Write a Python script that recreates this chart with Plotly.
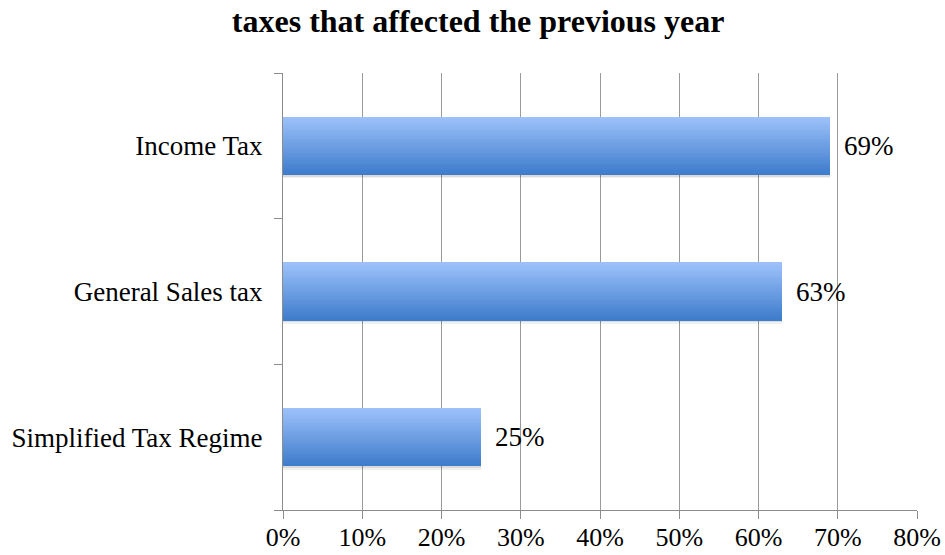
import plotly.graph_objects as go

# Survey results: share of respondents affected by each tax
categories = ["Simplified Tax Regime", "General Sales tax", "Income Tax"]
shares = [0.25, 0.63, 0.69]
x_ticks = [0.0, 0.1, 0.2, 0.3, 0.4, 0.5, 0.6, 0.7, 0.8]

FONT = "Liberation Serif, Times New Roman, serif"
BAR_W = 0.4
N_SLICES = 24
TOP = (156, 193, 250)     # light blue at the top edge of a bar
BOTTOM = (62, 124, 204)   # deeper blue at the bottom edge

fig = go.Figure()

# soft drop shadow under each bar (two faint layers)
for off, alpha in [(0.022, 0.06), (0.012, 0.09)]:
    fig.add_trace(go.Bar(
        y=categories, x=shares, orientation="h",
        width=BAR_W, offset=-BAR_W / 2 - off,
        marker=dict(color=f"rgba(0,0,0,{alpha})", line=dict(width=0)),
        hoverinfo="skip", showlegend=False,
    ))

# vertical gradient built from thin stacked slices of the same bars
for k in range(N_SLICES):
    t = k / (N_SLICES - 1)
    c = tuple(round(BOTTOM[i] + (TOP[i] - BOTTOM[i]) * t) for i in range(3))
    fig.add_trace(go.Bar(
        y=categories, x=shares, orientation="h",
        width=BAR_W / N_SLICES * 1.05,
        offset=-BAR_W / 2 + k * BAR_W / N_SLICES,
        marker=dict(color="rgb(%d,%d,%d)" % c, line=dict(width=0)),
        hoverinfo="skip", showlegend=False,
    ))

# value labels at the end of each bar
for cat, v in zip(categories, shares):
    fig.add_annotation(
        x=v, y=cat, text=f"{round(v * 100)}%", showarrow=False,
        xanchor="left", xshift=12, yshift=0,
        font=dict(family=FONT, size=27, color="#000"),
    )

fig.update_layout(
    width=945, height=555,
    margin=dict(l=283, r=28, t=73, b=45),
    paper_bgcolor="white", plot_bgcolor="white",
    barmode="overlay", bargap=0,
    title=dict(
        text="<b>taxes that affected the previous year</b>",
        x=0.506, xanchor="center", y=0.962, yanchor="middle",
        font=dict(family=FONT, size=32, color="#000"),
    ),
    font=dict(family=FONT, size=27, color="#000"),
)

fig.update_xaxes(
    range=[0, 0.8], tickvals=x_ticks, tickformat=".0%",
    showgrid=True, gridcolor="#9a9a9a", gridwidth=1,
    showline=True, linecolor="#8c8c8c", linewidth=1,
    ticks="outside", ticklen=8, tickcolor="#8c8c8c",
    ticklabelstandoff=-4,
    tickfont=dict(family=FONT, size=26, color="#000"),
    zeroline=False, fixedrange=True, automargin=False,
)
fig.update_yaxes(
    categoryorder="array", categoryarray=categories,
    showgrid=False, showline=True, linecolor="#8c8c8c", linewidth=1,
    ticks="outside", ticklen=8, tickcolor="#8c8c8c", tickson="boundaries",
    ticklabelstandoff=14,
    tickfont=dict(family=FONT, size=27, color="#000"),
    fixedrange=True, automargin=False,
)

fig.write_html("out.html")
